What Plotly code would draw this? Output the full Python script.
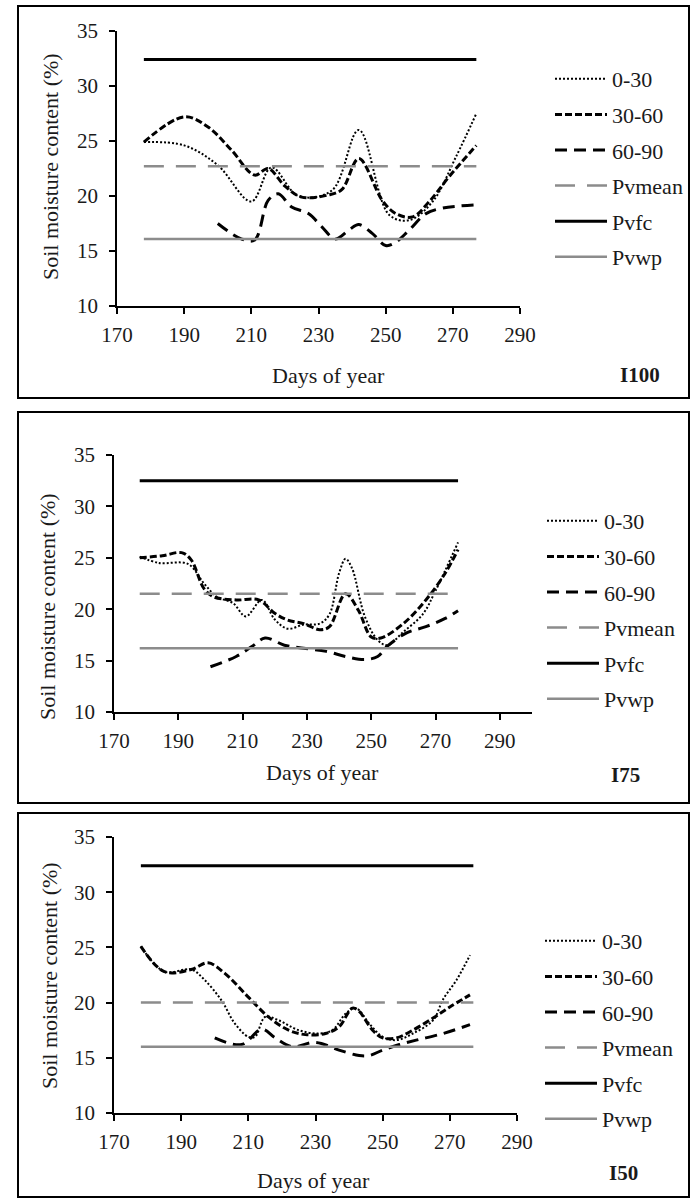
import plotly.graph_objects as go

W, H = 695, 1198

# ---------------- data ----------------
x_ticks = [170, 190, 210, 230, 250, 270, 290]
y_ticks = [10, 15, 20, 25, 30, 35]
series_names = ["0-30", "30-60", "60-90", "Pvmean", "Pvfc", "Pvwp"]
panel_labels = ["I100", "I75", "I50"]
x_title = "Days of year"
y_title = "Soil moisture content (%)"

# I100
i100_d030 = [178, 190, 200, 210, 216, 224, 234, 242, 251, 257, 264, 271, 277]
i100_v030 = [24.9, 24.6, 22.8, 19.5, 22.6, 20.0, 20.5, 26.0, 18.3, 17.8, 19.5, 23.6, 27.5]
i100_d3060 = [178, 190, 197, 204, 211, 215, 220, 225, 233, 237, 242, 249, 253, 258, 263, 269, 277]
i100_v3060 = [24.9, 27.2, 26.3, 24.2, 21.9, 22.5, 20.9, 19.9, 20.1, 20.6, 23.4, 19.6, 18.4, 18.1, 19.5, 21.8, 24.6]
i100_d6090 = [200, 207, 211, 215, 218, 222, 227, 231, 235, 239, 242, 246, 250, 253, 257, 262, 267, 277]
i100_v6090 = [17.5, 16.1, 16.0, 19.6, 20.2, 19.0, 18.4, 17.2, 16.1, 16.9, 17.4, 16.6, 15.5, 15.8, 16.9, 18.4, 18.9, 19.2]
i100_ref_days = [178, 277]
i100_pvmean = 22.7
i100_pvfc = 32.4
i100_pvwp = 16.1

# I75
i75_d030 = [178, 184, 193, 198, 202, 207, 211, 216, 220, 224, 229, 234, 237, 240, 242, 244, 248, 252, 255, 260, 266, 270, 277]
i75_v030 = [25.1, 24.5, 24.4, 22.5, 21.2, 20.6, 19.3, 20.9, 19.0, 18.1, 18.5, 18.6, 19.5, 23.5, 24.9, 24.0, 19.3, 17.0, 16.5, 17.8, 19.5, 21.8, 26.5]
i75_d3060 = [178, 185, 191, 194, 198, 201, 208, 215, 220, 224, 229, 234, 237, 242, 246, 250, 253, 260, 267, 273, 277]
i75_v3060 = [25.0, 25.2, 25.5, 24.8, 22.0, 21.2, 20.9, 20.9, 19.6, 18.95, 18.6, 18.0, 18.3, 21.5, 19.9, 17.3, 17.2, 18.6, 20.9, 23.5, 25.8]
i75_d6090 = [200, 208, 213, 217, 223, 229, 236, 242, 248, 252, 255, 261, 267, 273, 277]
i75_v6090 = [14.4, 15.4, 16.4, 17.2, 16.5, 16.2, 15.9, 15.4, 15.1, 15.4, 16.4, 17.7, 18.3, 19.1, 19.85]
i75_ref_days = [178, 277]
i75_pvmean = 21.5
i75_pvfc = 32.5
i75_pvwp = 16.2

# I50
i50_d030 = [178, 185, 193, 197, 202, 206, 210, 212, 215, 219, 225, 231, 235, 239, 242, 246, 250, 254, 259, 265, 268, 272, 276]
i50_v030 = [25.1, 22.8, 23.0, 22.05, 20.2, 18.1, 16.9, 16.9, 18.7, 18.4, 17.5, 17.2, 17.5, 19.0, 19.5, 18.1, 16.9, 16.6, 17.2, 18.4, 20.3, 22.05, 24.3]
i50_d3060 = [178, 185, 193, 198, 203, 210, 216, 222, 227, 233, 237, 241, 243, 247, 250, 254, 259, 265, 270, 276]
i50_v3060 = [25.1, 22.8, 23.0, 23.6, 22.65, 20.5, 18.7, 17.5, 17.1, 17.2, 17.8, 19.5, 19.2, 17.5, 16.8, 16.8, 17.5, 18.6, 19.6, 20.7]
i50_d6090 = [200, 208, 214, 218, 223, 230, 237, 243, 246, 250, 255, 260, 268, 276]
i50_v6090 = [16.8, 16.2, 17.6, 16.8, 16.0, 16.4, 15.7, 15.2, 15.2, 15.7, 16.2, 16.6, 17.2, 18.0]
i50_ref_days = [178, 277]
i50_pvmean = 20.0
i50_pvfc = 32.4
i50_pvwp = 16.0

panels = [
    dict(d030=i100_d030, v030=i100_v030, d3060=i100_d3060, v3060=i100_v3060,
         d6090=i100_d6090, v6090=i100_v6090, ref=i100_ref_days,
         pvmean=i100_pvmean, pvfc=i100_pvfc, pvwp=i100_pvwp),
    dict(d030=i75_d030, v030=i75_v030, d3060=i75_d3060, v3060=i75_v3060,
         d6090=i75_d6090, v6090=i75_v6090, ref=i75_ref_days,
         pvmean=i75_pvmean, pvfc=i75_pvfc, pvwp=i75_pvwp),
    dict(d030=i50_d030, v030=i50_v030, d3060=i50_d3060, v3060=i50_v3060,
         d6090=i50_d6090, v6090=i50_v6090, ref=i50_ref_days,
         pvmean=i50_pvmean, pvfc=i50_pvfc, pvwp=i50_pvwp),
]

# ---------------- layout geometry (pixels) ----------------
FONT = "Liberation Serif"
TXT = "#1a1a1a"
GRAY = "#8c8c8c"
geo = [
    dict(x0=117, x1=520, ytop=31, ybot=306, xmax=290, box=(18, 6, 689, 398),
         leg=(550, 58), xt=(328, 375), yt=(50, 167), lab=(640, 375)),
    dict(x0=114, x1=532, ytop=455, ybot=712, xmax=300, box=(18, 412, 689, 803),
         leg=(542, 500), xt=(322, 772), yt=(47, 607), lab=(625, 775)),
    dict(x0=114, x1=517, ytop=837, ybot=1113, xmax=290, box=(18, 813, 689, 1197),
         leg=(540, 920), xt=(313, 1180), yt=(49, 976), lab=(623, 1173)),
]

def px(x):
    return x / W

def py(y):
    return 1 - y / H

styles = {
    "0-30": dict(color="black", width=2, dash="2px,2px"),
    "30-60": dict(color="black", width=3, dash="7px,3px"),
    "60-90": dict(color="black", width=3, dash="12px,7px"),
    "Pvmean": dict(color=GRAY, width=2.5, dash="20px,12px"),
    "Pvfc": dict(color="black", width=3),
    "Pvwp": dict(color=GRAY, width=2.5),
}

fig = go.Figure()
layout = dict(
    width=W, height=H, margin=dict(l=0, r=0, t=0, b=0, autoexpand=False),
    paper_bgcolor="white", plot_bgcolor="white",
    font=dict(family=FONT, size=21, color=TXT),
    shapes=[], annotations=[],
)

for i, (p, g) in enumerate(zip(panels, geo)):
    n = "" if i == 0 else str(i + 1)
    xa, ya = "x" + n, "y" + n
    leg = "legend" + n
    series = [
        ("0-30", p["d030"], p["v030"], "spline"),
        ("30-60", p["d3060"], p["v3060"], "spline"),
        ("60-90", p["d6090"], p["v6090"], "spline"),
        ("Pvmean", p["ref"], [p["pvmean"]] * len(p["ref"]), "linear"),
        ("Pvfc", p["ref"], [p["pvfc"]] * len(p["ref"]), "linear"),
        ("Pvwp", p["ref"], [p["pvwp"]] * len(p["ref"]), "linear"),
    ]
    for name, xs, ys, shape in series:
        fig.add_trace(go.Scatter(
            x=xs, y=ys, mode="lines", name=name,
            line=dict(shape=shape, smoothing=1.0, **styles[name]),
            xaxis=xa, yaxis=ya, legend=leg, legendgroup=name + n,
            hoverinfo="skip",
        ))
    axis_common = dict(
        showgrid=False, zeroline=False, showline=True, linecolor="black",
        linewidth=1.5, ticks="outside", tickcolor="black", ticklen=6,
        tickwidth=1.5, tickfont=dict(family=FONT, size=21, color=TXT),
        automargin=False,
    )
    layout["xaxis" + n] = dict(
        domain=[px(g["x0"]), px(g["x1"])], range=[170, g["xmax"]],
        tickvals=x_ticks, anchor=ya, ticklabelstandoff=3, **axis_common)
    layout["yaxis" + n] = dict(
        domain=[py(g["ybot"]), py(g["ytop"])], range=[10, 35],
        tickvals=y_ticks, anchor=xa, ticklabelstandoff=7, **axis_common)
    layout[leg] = dict(
        x=px(g["leg"][0]), y=py(g["leg"][1]), xanchor="left", yanchor="top",
        bgcolor="rgba(0,0,0,0)", font=dict(family=FONT, size=22, color=TXT),
        tracegroupgap=4, itemwidth=52,
    )
    bx0, by0, bx1, by1 = g["box"]
    layout["shapes"].append(dict(
        type="rect", xref="paper", yref="paper",
        x0=px(bx0), x1=px(bx1), y0=py(by1), y1=py(by0),
        line=dict(color="black", width=2), fillcolor="rgba(0,0,0,0)"))
    layout["annotations"] += [
        dict(text=x_title, x=px(g["xt"][0]), y=py(g["xt"][1]), xref="paper",
             yref="paper", showarrow=False, xanchor="center", yanchor="middle",
             font=dict(family=FONT, size=22, color=TXT)),
        dict(text=y_title, x=px(g["yt"][0]), y=py(g["yt"][1]), xref="paper",
             yref="paper", showarrow=False, textangle=-90, xanchor="center",
             yanchor="middle", font=dict(family=FONT, size=22, color=TXT)),
        dict(text="<b>" + panel_labels[i] + "</b>", x=px(g["lab"][0]),
             y=py(g["lab"][1]), xref="paper", yref="paper", showarrow=False,
             xanchor="center", yanchor="middle",
             font=dict(family=FONT, size=21, color=TXT)),
    ]

fig.update_layout(**layout)
fig.write_html("out.html")
